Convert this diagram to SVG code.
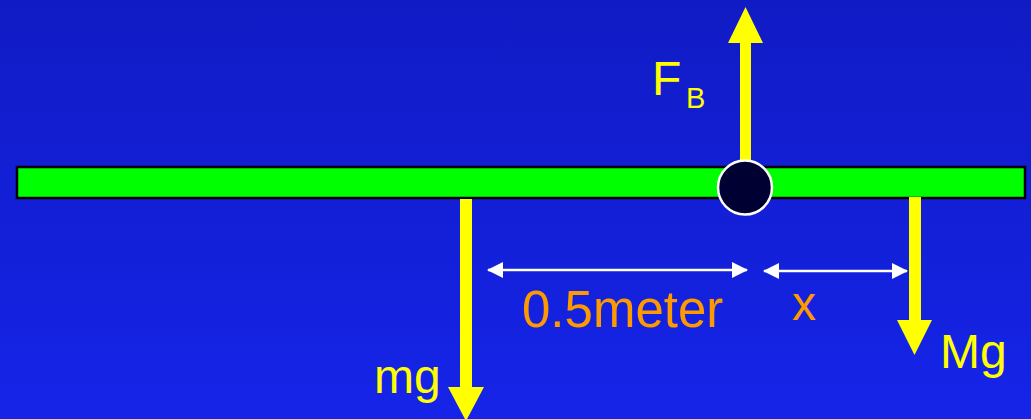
<svg xmlns="http://www.w3.org/2000/svg" width="1031" height="419" viewBox="0 0 1031 419">
<defs>
<linearGradient id="bg" x1="0" y1="0" x2="0" y2="1">
<stop offset="0" stop-color="#111bc5"/>
<stop offset="1" stop-color="#1524e8"/>
</linearGradient>
<marker id="wh" viewBox="0 0 16 16" refX="15" refY="8" markerWidth="16" markerHeight="16" markerUnits="userSpaceOnUse" orient="auto-start-reverse">
<path d="M0,0 L16,8 L0,16 Z" fill="#ffffff"/>
</marker>
</defs>
<style>
.lbl{font-family:"Comic Sans MS","Liberation Sans",sans-serif;}
.y{fill:#ffff00;}
.o{fill:#ff9900;}
.dim{stroke:#ffffff;stroke-width:2.5;fill:none;}
.force{fill:#ffff00;}
</style>
<rect x="0" y="0" width="1031" height="419" fill="url(#bg)"/>
<g id="beam">
<rect x="17" y="167" width="1008" height="31" fill="#00ff00" stroke="#000000" stroke-width="2.5"/>
</g>
<g id="connectors">
<path id="arrow-FB" class="force" d="M740,160 L740,43 L728,43 L745.5,7 L763,43 L751,43 L751,160 Z"/>
<path id="arrow-mg" class="force" d="M460,199 L460,387 L448,387 L466,421 L484,387 L472,387 L472,199 Z"/>
<path id="arrow-Mg" class="force" d="M909,197 L909,320 L897,320 L914.5,355 L932,320 L921,320 L921,197 Z"/>
<line class="dim" x1="488" y1="270" x2="747" y2="270" marker-start="url(#wh)" marker-end="url(#wh)"/>
<line class="dim" x1="764" y1="271" x2="907" y2="271" marker-start="url(#wh)" marker-end="url(#wh)"/>
</g>
<g id="pivot">
<circle cx="745" cy="187.5" r="27" fill="#000033" stroke="#ffffff" stroke-width="2.5"/>
</g>
<g id="label-FB">
<text class="lbl y" x="652" y="95" font-size="48">F</text>
<text class="lbl y" x="686" y="108" font-size="29">B</text>
</g>
<g id="label-mg">
<text class="lbl y" x="374" y="393" font-size="48">mg</text>
</g>
<g id="label-Mg">
<text class="lbl y" x="940" y="368" font-size="48">Mg</text>
</g>
<g id="label-dist">
<text class="lbl o" x="522" y="327" font-size="51">0.5meter</text>
</g>
<g id="label-x">
<text class="lbl o" x="792" y="320" font-size="48">x</text>
</g>
</svg>
